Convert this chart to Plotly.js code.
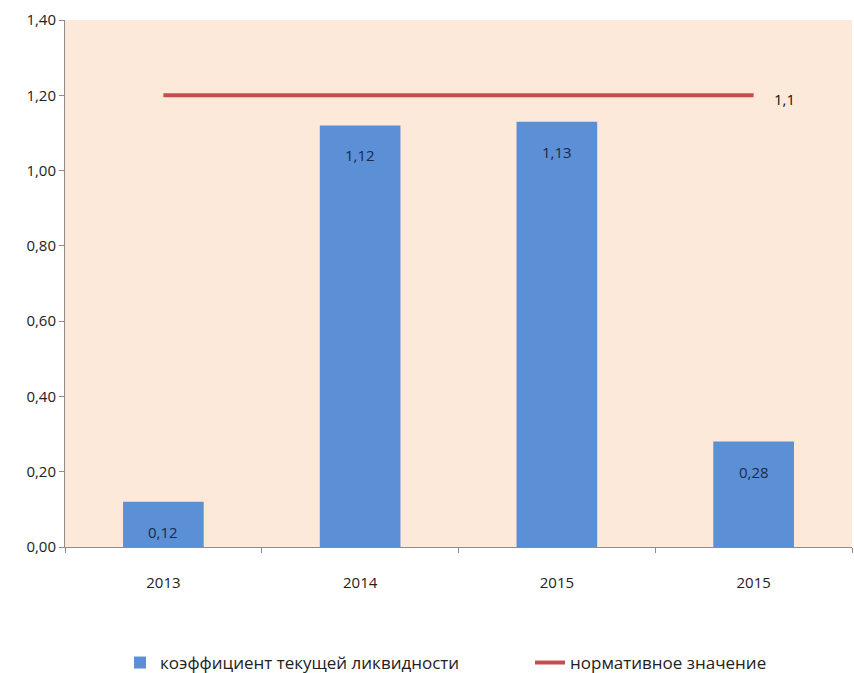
<!DOCTYPE html>
<html>
<head>
<meta charset="utf-8">
<script src="https://cdn.plot.ly/plotly-3.0.1.min.js"></script>
<style>html,body{margin:0;padding:0;background:#fff;}#chart{width:854px;height:673px;}</style>
</head>
<body>
<div id="chart"></div>
<script>
const categories = ["2013", "2014", "2015", "2015"];
const ratioValues = [0.12, 1.12, 1.13, 0.28];
const ratioLabels = ["0,12", "1,12", "1,13", "0,28"];
const normValues = [1.2, 1.2, 1.2, 1.2];
const normLabel = "1,1";
const seriesNames = ["коэффициент текущей ликвидности", "нормативное значение"];
const yTicks = [0, 0.2, 0.4, 0.6, 0.8, 1.0, 1.2, 1.4];

const xPos = categories.map((c, i) => i);
const fam = "Open Sans, Noto Sans, sans-serif";
const font = {family: fam, size: 15, color: "#222"};

const traces = [
  {
    type: "bar",
    name: seriesNames[0],
    x: xPos,
    y: ratioValues,
    marker: {color: "#5b8fd6"},
    legend: "legend",
    hoverinfo: "none"
  },
  {
    type: "scatter",
    mode: "lines",
    name: seriesNames[1],
    x: xPos,
    y: normValues,
    line: {color: "#c0504d", width: 4},
    legend: "legend2",
    hoverinfo: "none"
  }
];

const annotations = ratioValues.map((v, i) => ({
  x: xPos[i], y: v, xref: "x", yref: "y",
  text: ratioLabels[i], showarrow: false,
  yanchor: "top", yshift: -18,
  font: {family: fam, size: 15, color: "#1b2a4a"}
}));
annotations.push({
  x: xPos[xPos.length - 1], y: normValues[normValues.length - 1], xref: "x", yref: "y",
  text: normLabel, showarrow: false, xanchor: "left", xshift: 18, yshift: -4,
  font: {family: fam, size: 15, color: "#111"}
});

const legendFont = {family: fam, size: 17, color: "#222"};

const layout = {
  width: 854,
  height: 673,
  margin: {l: 65, r: 2, t: 20, b: 126},
  paper_bgcolor: "#ffffff",
  plot_bgcolor: "#fde9d9",
  separators: ", ",
  font: font,
  bargap: 0.59,
  showlegend: true,
  annotations: annotations,
  legend: {
    orientation: "h",
    xref: "container", yref: "container",
    x: 0.1405, xanchor: "left",
    y: 0.0149, yanchor: "middle",
    font: legendFont,
    bgcolor: "rgba(0,0,0,0)"
  },
  legend2: {
    orientation: "h",
    xref: "container", yref: "container",
    x: 0.6206, xanchor: "left",
    y: 0.0149, yanchor: "middle",
    font: legendFont,
    bgcolor: "rgba(0,0,0,0)"
  },
  xaxis: {
    range: [-0.5, 3.5],
    tickvals: xPos,
    ticktext: categories,
    ticks: "",
    ticklabelstandoff: 22,
    showgrid: false,
    zeroline: false,
    showline: true,
    linecolor: "#8c8c8c",
    linewidth: 1,
    tickfont: font,
    fixedrange: true,
    automargin: false,
    minor: {tick0: -0.5, dtick: 1, ticks: "outside", ticklen: 5, tickcolor: "#8c8c8c", showgrid: false}
  },
  yaxis: {
    range: [0, 1.4],
    tickvals: yTicks,
    tickformat: ".2f",
    ticks: "outside",
    ticklen: 5,
    tickcolor: "#8c8c8c",
    showgrid: false,
    zeroline: false,
    showline: true,
    linecolor: "#8c8c8c",
    linewidth: 1,
    tickfont: font,
    automargin: false,
    fixedrange: true
  }
};

Plotly.newPlot("chart", traces, layout, {displayModeBar: false, staticPlot: true});
</script>
</body>
</html>
